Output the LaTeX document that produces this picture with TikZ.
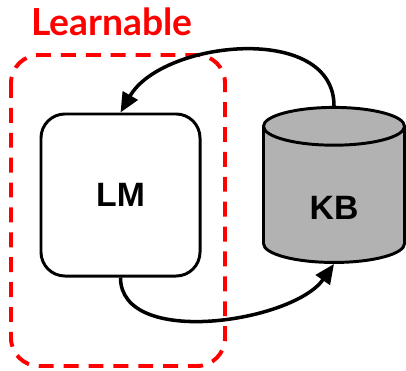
\documentclass[tikz,border=0pt]{standalone}
\usepackage{fontspec}
\setmainfont{Liberation Sans}
\newfontfamily\latofont{Lato}
\usetikzlibrary{arrows.meta,positioning,shapes.geometric,calc}
\tikzset{
    block/.style={draw=black, line width=2.1pt, rounded corners=0.6cm, fill=white,
        minimum width=3.975cm, minimum height=4.05cm,
        font=\fontsize{24}{28}\selectfont\bfseries},
    store/.style={cylinder, shape border rotate=90, aspect=0.65, draw=black,
        line width=2.1pt, fill=black!30, minimum width=3.525cm, minimum height=3.875cm,
        text height=30pt, text depth=0pt,
        font=\fontsize{24}{28}\selectfont\bfseries},
    flow/.style={line width=2.5pt, -{Triangle[length=14pt,width=12pt]}},
}

\begin{document}
\begin{tikzpicture}[x=0.025cm, y=-0.025cm]

    \useasboundingbox (0,0) rectangle (406,370);

    % learnable part
    \draw [red, line width=2.8pt, dash pattern=on 10.6pt off 7.1pt, rounded corners=0.7cm]
    (11,55) rectangle (225,366);
    \node [red] (learnable) at (112,22) {\latofont\bfseries\fontsize{26.5}{30}\selectfont Learnable};

    \node [block] (lm) at (120.5,195) {LM};
    \node [store] (kb) at (334,198.5) {KB};

    \draw [flow] (kb.north) to[out=90, in=60] (lm.north);
    \draw [flow] (lm.south) to[out=-90, in=235, looseness=0.85] (kb.south);

\end{tikzpicture}
\end{document}
